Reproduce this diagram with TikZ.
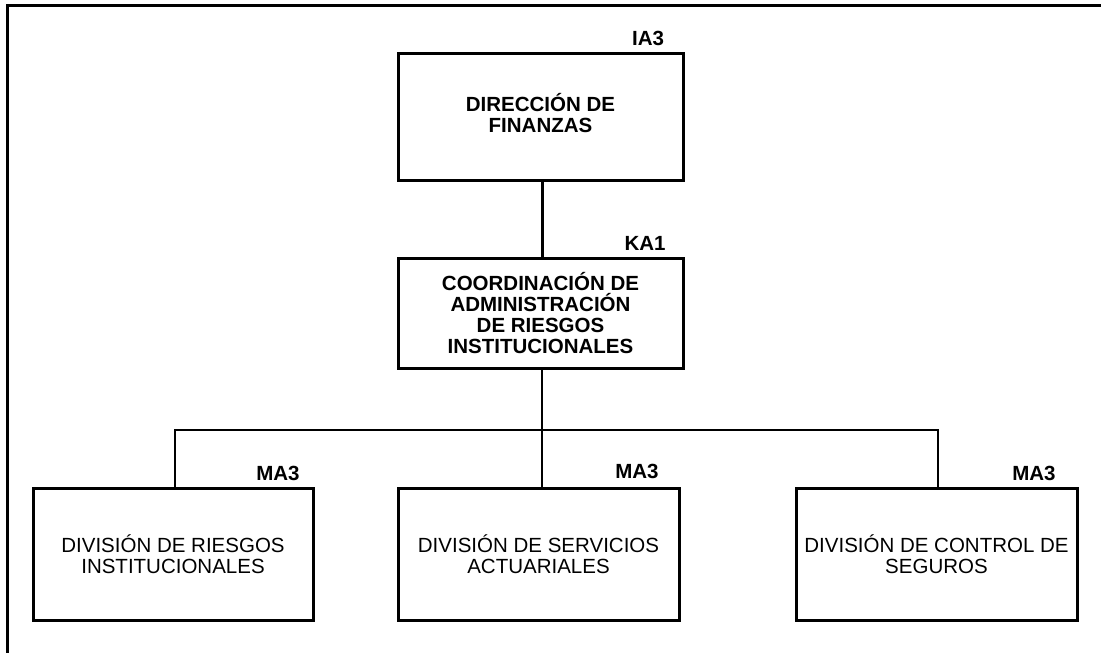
\documentclass[tikz,border=0pt]{standalone}
\usepackage{fontspec}
\setmainfont{Liberation Sans}
\begin{document}
\begin{tikzpicture}[x=1pt,y=-1pt,
  box/.style={draw=black,line width=3pt,rectangle,inner sep=0pt,align=center,font=\fontsize{20.5}{21.5}\selectfont},
  boldbox/.style={box,font=\fontsize{20.5}{21}\selectfont\bfseries},
  lab/.style={inner sep=0pt,font=\fontsize{20.5}{21}\selectfont\bfseries},
  thick conn/.style={line width=3pt},
  conn/.style={line width=2pt}]
\useasboundingbox (0,0) rectangle (1101,653);
% frame (cropped)
\draw[line width=3pt] (7,653) -- (7,5) -- (1101,5);
% boxes
\node[boldbox,minimum width=285pt,minimum height=127pt] (dir) at (540.5,116.5) {\raisebox{-10pt}{\begin{tabular}{@{}c@{}}DIRECCIÓN DE\\FINANZAS\end{tabular}}};
\node[boldbox,minimum width=285pt,minimum height=110pt] (coord) at (540.5,313) {COORDINACIÓN DE\\ADMINISTRACIÓN\\DE RIESGOS\\INSTITUCIONALES};
\node[box,minimum width=280pt,minimum height=132pt] (d1) at (173,554) {DIVISIÓN DE RIESGOS\\INSTITUCIONALES};
\node[box,minimum width=281pt,minimum height=132pt] (d2) at (538.5,554) {DIVISIÓN DE SERVICIOS\\ACTUARIALES};
\node[box,minimum width=281pt,minimum height=132pt] (d3) at (936.5,554) {DIVISIÓN DE CONTROL DE\\SEGUROS};
% labels
\node[lab] (l0) at (648,38) {IA3};
\node[lab] (l1) at (645,243) {KA1};
\node[lab] (l2) at (278,473) {MA3};
\node[lab] (l3) at (637,471) {MA3};
\node[lab] (l4) at (1034,473) {MA3};
% connectors
\coordinate (bus) at (542,430);
\draw[thick conn] (dir.south -| bus) -- (coord.north -| bus);
\draw[conn] (coord.south -| bus) -- (bus);
\draw[conn] (d1.north -| 175,0) |- (bus) -| (d3.north -| 938,0);
\draw[conn] (bus) -- (d2.north -| bus);
\end{tikzpicture}
\end{document}
